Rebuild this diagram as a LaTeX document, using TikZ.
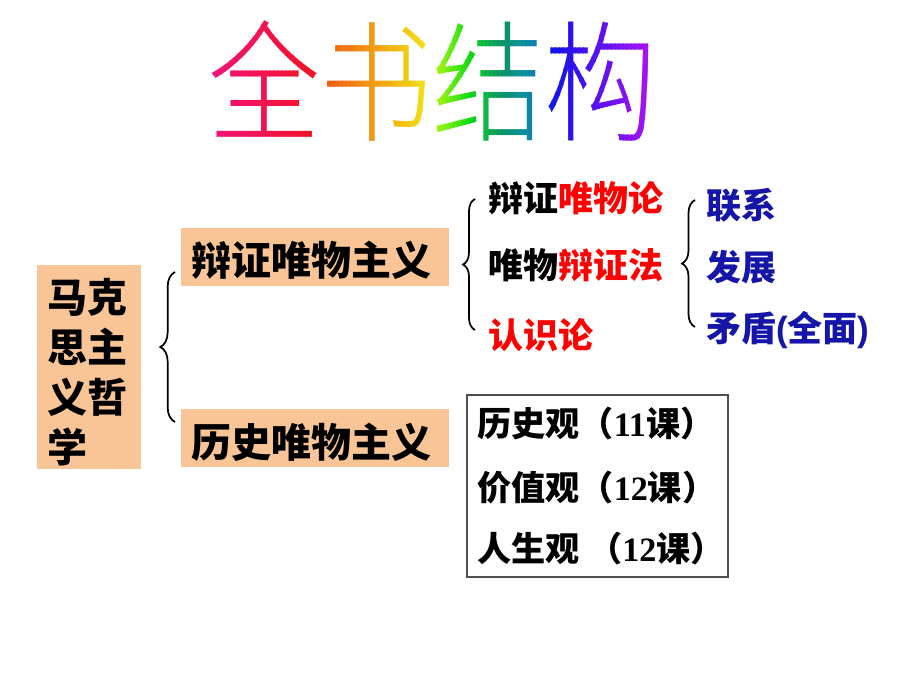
\documentclass[tikz,border=0pt]{standalone}
\usepackage{fontspec}
\usetikzlibrary{decorations.pathreplacing}
\newfontfamily\cjk{Noto Sans CJK SC}
\newfontfamily\titlefont{Noto Sans CJK SC Light}
\newfontfamily\lsans{Liberation Sans}
\newfontfamily\lserif{Liberation Serif}
\definecolor{peach}{HTML}{F9C596}
\definecolor{dblue}{HTML}{1515A8}
\definecolor{tred}{HTML}{FF0000}
\definecolor{boxgray}{HTML}{505050}
\begin{document}
\begin{tikzpicture}[x=0.75pt,y=-0.75pt,
  bigtxt/.style={anchor=base west, inner sep=0pt, font=\cjk\bfseries\fontsize{30}{30}\selectfont},
  midtxt/.style={anchor=base west, inner sep=0pt, font=\cjk\bfseries\fontsize{26.25}{26.25}\selectfont},
  boxtxt/.style={anchor=base west, inner sep=0pt, font=\cjk\bfseries\fontsize{25.6}{25.6}\selectfont},
  titletxt/.style={anchor=base west, inner sep=0pt, font=\titlefont\fontsize{84}{84}\selectfont},
  peachbox/.style={fill=peach, draw=none, inner sep=0pt},
  bracket/.style={draw=black, line width=1.3pt, decorate, decoration={brace, amplitude=#1}},
]
\useasboundingbox[fill=white] (0,0) rectangle (920,690);

% rainbow title
\foreach \xs/\xe/\ha/\hb in {205/322/-30/-3, 322/433/18/58, 433/543/75/210, 543/660/235/285} {
  \pgfmathtruncatemacro\n{(\xe-\xs)/4}
  \foreach \i in {0,...,\n} {
    \pgfmathsetmacro\xa{\xs+4*\i}
    \pgfmathsetmacro\hh{\ha+(\hb-\ha)*(4*\i+2)/(\xe-\xs)}
    \pgfmathsetmacro\h{mod(\hh+360,360)}
    \pgfmathsetmacro\bb{0.95-0.38*exp(-((\hh-170)/45)^2)}
    \definecolor{tcraw}{Hsb}{\h,0.92,\bb}
    \colorlet{tc}[rgb]{tcraw}
    \begin{scope}
      \clip (\xa,2) rectangle (\xa+4.4,170);
      \node[titletxt, text=tc] (title) at (208,131) {\scalebox{1}[1.17]{全书结构}};
    \end{scope}
  }
}

% boxes
\node[peachbox, minimum width=78pt, minimum height=153pt] (mbox) at (89,367) {};
\node[peachbox, minimum width=201pt, minimum height=43.5pt] (dbox) at (315,257) {};
\node[peachbox, minimum width=201pt, minimum height=43.5pt] (hbox) at (315,438) {};
\node[draw=boxgray, line width=0.8pt, inner sep=0pt, minimum width=195.75pt, minimum height=136.5pt] (vbox) at (597.5,486) {};

% left column text
\node[bigtxt] (m1) at (47,312) {马克};
\node[bigtxt] (m2) at (47,362) {思主};
\node[bigtxt] (m3) at (47,412) {义哲};
\node[bigtxt] (m4) at (47,462) {学};

\node[bigtxt] (dtxt) at (191,275) {辩证唯物主义};
\node[bigtxt] (htxt) at (191,457) {历史唯物主义};

% middle
\node[midtxt] (t1) at (488,211) {辩证\textcolor{tred}{唯物论}};
\node[midtxt] (t2) at (488,278) {唯物\textcolor{tred}{辩证法}};
\node[midtxt, text=tred] (t3) at (488,348) {认识论};

% blue
\node[midtxt, text=dblue] (b1) at (706,218) {联系};
\node[midtxt, text=dblue] (b2) at (706,280) {发展};
\node[midtxt, text=dblue] (b3) at (706,341) {矛盾{\lsans(}全面{\lsans)}};

% box 4
\node[boxtxt] (v1) at (477,436) {历史观（{\lserif 11}课）};
\node[boxtxt] (v2) at (477,500) {价值观（{\lserif 12}课）};
\node[boxtxt] (v3) at (477,561) {人生观{\lserif\ }（{\lserif 12}课）};

% braces
\coordinate (br1a) at (175,422); \coordinate (br1b) at (175,272);
\coordinate (br2a) at (475,330); \coordinate (br2b) at (475,199);
\coordinate (br3a) at (695,327); \coordinate (br3b) at (695,200);
\draw[bracket=11pt] (br1a) -- (br1b);
\draw[bracket=9pt] (br2a) -- (br2b);
\draw[bracket=9.75pt] (br3a) -- (br3b);
\end{tikzpicture}
\end{document}
